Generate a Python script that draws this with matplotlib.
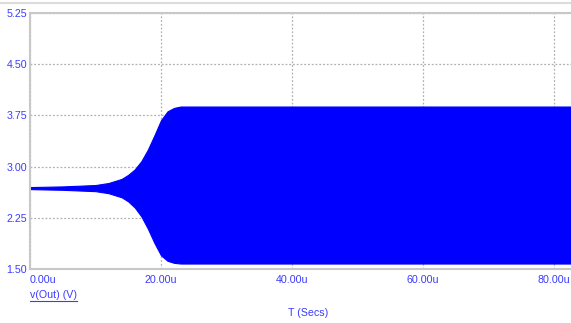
import matplotlib
matplotlib.use("Agg")
import matplotlib.pyplot as plt
from matplotlib.lines import Line2D

# Envelope of the oscillating v(Out) signal (time in microseconds, volts)
t_us = [0, 5, 10, 12, 14, 15, 16, 17, 18, 19, 20, 21, 22, 23, 24, 30, 40, 50, 60, 70, 80, 82.6]
v_upper = [2.70, 2.71, 2.73, 2.76, 2.82, 2.88, 2.96, 3.08, 3.25, 3.46, 3.68, 3.81, 3.86, 3.88, 3.88, 3.88, 3.88, 3.88, 3.88, 3.88, 3.88, 3.88]
v_lower = [2.67, 2.66, 2.64, 2.61, 2.55, 2.49, 2.40, 2.27, 2.09, 1.88, 1.70, 1.62, 1.59, 1.58, 1.58, 1.58, 1.58, 1.58, 1.58, 1.58, 1.58, 1.58]

x_ticks = [0, 20, 40, 60, 80]
x_ticklabels = ["0.00u", "20.00u", "40.00u", "60.00u", "80.00u"]
y_ticks = [1.50, 2.25, 3.00, 3.75, 4.50, 5.25]
y_ticklabels = ["1.50", "2.25", "3.00", "3.75", "4.50", "5.25"]

W, H = 571, 323
fig = plt.figure(figsize=(W / 100, H / 100), dpi=100)
plt.rcParams['font.family'] = ['Liberation Sans', 'DejaVu Sans']
ax = fig.add_axes([30 / W, 1 - 269 / H, 1 - 30 / W, (269 - 13) / H])

blue = "#0000ff"
txt_blue = "#3b3bff"

ax.fill_between(t_us, v_lower, v_upper, color=blue, linewidth=0.8,
                edgecolor=blue, zorder=2, clip_on=True)

ax.set_xlim(0, 82.6)
ax.set_ylim(1.50, 5.25)

ax.set_xticks(x_ticks)
ax.set_xticklabels(x_ticklabels)
ax.set_yticks(y_ticks)
ax.set_yticklabels(y_ticklabels)
ax.tick_params(axis='both', length=0, colors=txt_blue, labelsize=7.7)
ax.tick_params(axis='x', pad=4)
ax.tick_params(axis='y', pad=2)
ax.get_xticklabels()[0].set_horizontalalignment('left')

ax.set_axisbelow(True)
ax.grid(True, color="#b0b0b0", linestyle=(0, (1.5, 1.5)), linewidth=0.9)

for side in ["left", "bottom", "top"]:
    ax.spines[side].set_color("#c8c8c8")
    ax.spines[side].set_linewidth(1.5)
    ax.spines[side].set_zorder(3)
ax.spines["right"].set_visible(False)

# window border line at the very top
fig.add_artist(Line2D([0, 1], [1 - 3 / H, 1 - 3 / H], color="#dcdcdc", linewidth=1.5))

fig.text(308 / W, 1 - 313 / H, "T (Secs)", color=txt_blue, fontsize=7.7, ha='center', va='center')
lbl = fig.text(30 / W, 1 - 295 / H, "v(Out) (V)", color=txt_blue, fontsize=7.7, ha='left', va='center')

fig.canvas.draw()
bb = lbl.get_window_extent()
y_ul = (bb.y0 - 1) / H
fig.add_artist(Line2D([bb.x0 / W, bb.x1 / W], [y_ul, y_ul], color=txt_blue, linewidth=0.8))

fig.savefig("out.png", dpi=100)
